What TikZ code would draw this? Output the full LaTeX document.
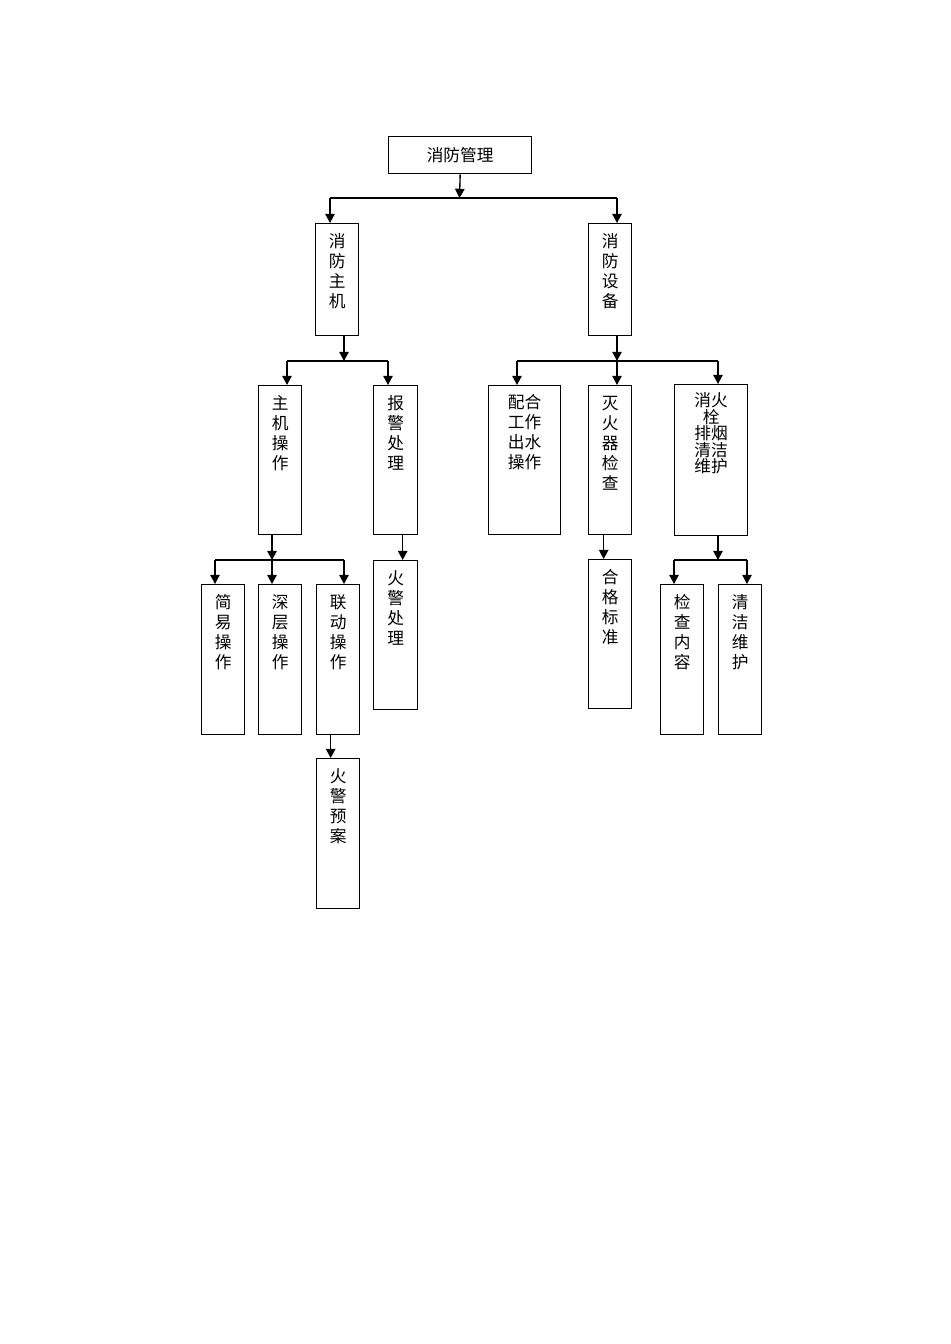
\documentclass[tikz,border=0pt]{standalone}
\usepackage{fontspec}
\setmainfont{Noto Sans CJK SC}
\usepackage{tikz}
\usetikzlibrary{arrows.meta}
\newlength\unitpx
\setlength\unitpx{0.22105mm}
\newcommand{\coltext}[3][24]{\parbox[c][#2\unitpx][t]{2em}{\centering\rule{0pt}{#1\unitpx}#3}}
\tikzstyle{title} = [rectangle, 
anchor=north west, 
minimum width=143\unitpx, 
minimum height=37\unitpx, 
inner sep=0pt, 
draw=black, 
line width=0.85pt]
\tikzstyle{column} = [rectangle, 
anchor=north west, 
minimum width=43\unitpx, 
inner sep=0pt, 
draw=black, 
line width=0.85pt]
\tikzstyle{bus} = [line width=0.85pt]
\tikzstyle{arrow} = [line width=0.85pt,-{Triangle[length=5.8pt,width=6pt]}]

\begin{document}
\begin{tikzpicture}[x=\unitpx, y=-\unitpx, font=\fontsize{10.5pt}{12.54pt}\selectfont]
\useasboundingbox (0,0) rectangle (950,1344);

\node (mgmt) [title] at (388,136) {消防管理};

\node (host) [column] at (315,223) {\coltext{112}{消\\防\\主\\机}};
\node (equip) [column] at (588,223) {\coltext{112}{消\\防\\设\\备}};

\node (host_op) [column] at (258,385) {\coltext{149}{主\\机\\操\\作}};
\node (alarm) [column, minimum width=44\unitpx] at (373,385) {\coltext{149}{报\\警\\处\\理}};
\node (coop) [column, minimum width=72\unitpx] at (488,385) {\coltext[23]{149}{配合\\工作\\出水\\操作}};
\node (ext) [column] at (588,385) {\coltext{149}{灭\\火\\器\\检\\查}};
\node (hyd) [column, minimum width=73\unitpx] at (674,384) {\coltext[22]{151}{\fontsize{10.5pt}{10.4pt}\selectfont 消火\\栓\\排烟\\清洁\\维护}};

\node (simple) [column] at (201,584) {\coltext{150}{简\\易\\操\\作}};
\node (deep) [column] at (258,584) {\coltext{150}{深\\层\\操\\作}};
\node (link) [column] at (316,584) {\coltext{150}{联\\动\\操\\作}};
\node (fire) [column, minimum width=44\unitpx] at (373,560) {\coltext{149}{火\\警\\处\\理}};
\node (std) [column] at (588,559) {\coltext{149}{合\\格\\标\\准}};
\node (check) [column] at (660,584) {\coltext{150}{检\\查\\内\\容}};
\node (clean) [column] at (718,584) {\coltext{150}{清\\洁\\维\\护}};

\node (plan) [column] at (316,758) {\coltext{150}{火\\警\\预\\案}};

% bus lines
\coordinate (b1) at (459.5,198);
\coordinate (b1l) at (330,198);
\coordinate (b1r) at (617,198);
\coordinate (b2) at (344,361);
\coordinate (b2l) at (287,361);
\coordinate (b2r) at (388,361);
\coordinate (b3) at (617,361);
\coordinate (b3l) at (517,361);
\coordinate (b3r) at (718,361);
\coordinate (b4) at (272,560);
\coordinate (b4l) at (215,560);
\coordinate (b4r) at (344,560);
\coordinate (b5) at (718,560);
\coordinate (b5l) at (674,560);
\coordinate (b5r) at (747,560);

\draw [arrow] (mgmt.south) -- (b1);
\draw [bus] (b1l) -- (b1r);
\draw [arrow] (b1l) -- (b1l |- host.north);
\draw [arrow] (b1r) -- (b1r |- equip.north);

\draw [arrow] (b2 |- host.south) -- (b2);
\draw [bus] (b2l) -- (b2r);
\draw [arrow] (b2l) -- (b2l |- host_op.north);
\draw [arrow] (b2r) -- (b2r |- alarm.north);

\draw [arrow] (b3 |- equip.south) -- (b3);
\draw [bus] (b3l) -- (b3r);
\draw [arrow] (b3l) -- (b3l |- coop.north);
\draw [arrow] (b3) -- (b3 |- ext.north);
\draw [arrow] (b3r) -- (b3r |- hyd.north);

\draw [arrow] (b4 |- host_op.south) -- (b4);
\draw [bus] (b4l) -- (b4r);
\draw [arrow] (b4l) -- (b4l |- simple.north);
\draw [arrow] (b4) -- (b4 |- deep.north);
\draw [arrow] (b4r) -- (b4r |- link.north);

\draw [arrow] (b5 |- hyd.south) -- (b5);
\draw [bus] (b5l) -- (b5r);
\draw [arrow] (b5l) -- (b5l |- check.north);
\draw [arrow] (b5r) -- (b5r |- clean.north);

\draw [arrow] ([xshift=7\unitpx]alarm.south) -- ([xshift=7\unitpx]fire.north);
\draw [arrow] ([xshift=-7.5\unitpx]link.south) -- ([xshift=-7.5\unitpx]plan.north);
\draw [arrow] ([xshift=-6.5\unitpx]ext.south) -- ([xshift=-6.5\unitpx]std.north);

\end{tikzpicture}
\end{document}
